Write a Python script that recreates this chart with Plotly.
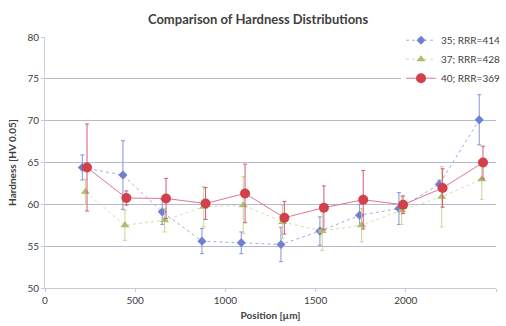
import plotly.graph_objects as go

# Series 35; RRR=414
x35 = [207, 432, 650, 870, 1088, 1308, 1524, 1744, 1962, 2186, 2407]
y35 = [64.4, 63.5, 59.1, 55.6, 55.4, 55.2, 56.8, 58.7, 59.5, 62.4, 70.1]
e35 = [1.5, 4.1, 1.5, 1.5, 1.3, 2.05, 1.7, 1.3, 1.9, 0.5, 3.0]

# Series 37; RRR=428
x37 = [224, 443, 663, 880, 1099, 1317, 1537, 1755, 1977, 2199, 2421]
y37 = [61.5, 57.5, 58.1, 59.7, 59.9, 57.9, 56.8, 57.5, 59.3, 60.9, 63.0]
e37 = [1.5, 1.8, 1.4, 2.4, 3.4, 2.0, 2.3, 2.0, 1.7, 3.6, 2.4]

# Series 40; RRR=369
x40 = [233, 451, 671, 890, 1109, 1327, 1546, 1764, 1985, 2204, 2428]
y40 = [64.4, 60.75, 60.7, 60.1, 61.3, 58.4, 59.6, 60.55, 59.95, 61.95, 65.0]
e40 = [5.2, 0.85, 2.4, 1.9, 3.5, 1.95, 2.6, 3.5, 1.05, 2.3, 1.95]

FONT = "Lato"

fig = go.Figure()
fig.add_trace(go.Scatter(
    x=x35, y=y35, name="35; RRR=414", mode="lines+markers",
    line=dict(color="#a4aee2", width=1, dash="dot"),
    marker=dict(symbol="diamond", size=7, color="#6f7fd2"),
    error_y=dict(type="data", array=e35, visible=True, color="#8593da", thickness=1, width=2),
))
fig.add_trace(go.Scatter(
    x=x37, y=y37, name="37; RRR=428", mode="lines+markers",
    line=dict(color="#dadfa6", width=1, dash="dot"),
    marker=dict(symbol="triangle-up", size=8, color="#a9c26a"),
    error_y=dict(type="data", array=e37, visible=True, color="#ccd494", thickness=1, width=2),
))
fig.add_trace(go.Scatter(
    x=x40, y=y40, name="40; RRR=369", mode="lines+markers",
    line=dict(color="#de7596", width=1),
    marker=dict(symbol="circle", size=10, color="#d2414a"),
    error_y=dict(type="data", array=e40, visible=True, color="#d6587a", thickness=1, width=2),
))

fig.update_layout(
    width=506, height=326,
    margin=dict(l=45, r=10, t=37, b=38, autoexpand=False),
    paper_bgcolor="white", plot_bgcolor="white",
    font=dict(family=FONT, size=10, color="#404040"),
    title=dict(text="<b>Comparison of Hardness Distributions</b>", x=0.51, xanchor="center",
               y=0.94, yanchor="middle", font=dict(family=FONT, size=13, color="#404040")),
    showlegend=True,
    legend=dict(x=1.02, xanchor="right", y=1.045, yanchor="top", bgcolor="white",
                font=dict(family=FONT, size=10, color="#404040"),
                tracegroupgap=0, itemwidth=30),
    xaxis=dict(range=[0, 2500], tickvals=[0, 500, 1000, 1500, 2000, 2500], automargin=False,
               showgrid=False, zeroline=False, showline=True, linecolor="#c8c8d8", linewidth=1,
               ticks="outside", ticklen=3, tickcolor="#c8c8d8",
               title=dict(text="<b>Position [µm]</b>", font=dict(family=FONT, size=10, color="#404040"), standoff=6)),
    yaxis=dict(range=[50, 80], tickvals=[50, 55, 60, 65, 70, 75, 80], automargin=False,
               showgrid=True, gridcolor="#b8b8cc", gridwidth=1, zeroline=False,
               showline=True, linecolor="#d0d0dc", linewidth=1,
               ticks="outside", ticklen=3, tickcolor="#c8c8d8",
               title=dict(text="<b>Hardness [HV 0.05]</b>", font=dict(family=FONT, size=10, color="#404040"), standoff=8)),
)

fig.write_html("out.html", config={"displayModeBar": False},
               post_script="document.body.style.margin='0';")
